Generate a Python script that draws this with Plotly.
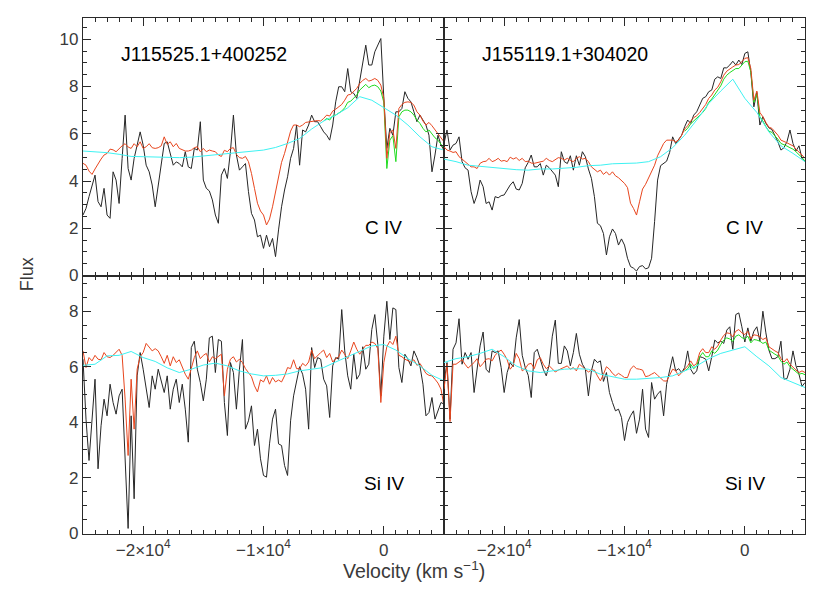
import numpy as np
import plotly.graph_objects as go
from plotly.subplots import make_subplots

# velocity sampling (km/s)
vel = np.arange(-25000, 5001, 250)
vel_cont = np.arange(-25000, 5001, 1000)
vel_green = np.arange(-5000, 5001, 250)

# ---- J115525.1+400252, C IV ----
tl_black = [2.56, 2.84, 3.34, 3.76, 4.25, 3.13, 2.91, 3.69, 2.56, 2.42,
            4.39, 4.04, 3.05, 4.95, 6.79, 4.53, 4.04, 4.96, 5.59, 6.08,
            5.52, 4.67, 4.39, 3.83, 2.91, 3.83, 4.53, 5.59, 5.66, 5.10,
            4.67, 4.81, 4.74, 4.60, 5.24, 4.60, 4.53, 5.38, 5.31, 6.51,
            4.04, 3.69, 3.58, 3.20, 2.56, 2.21, 4.25, 4.53, 4.11, 5.24,
            6.79, 5.10, 4.46, 4.60, 4.74, 3.55, 2.63, 2.35, 1.64, 1.71,
            1.15,
            1.71, 1.22, 1.57, 0.80, 1.93, 2.91, 3.62, 4.18, 4.96, 5.38,
            6.37, 4.67, 6.16, 6.08, 6.37, 6.79, 6.51, 6.51, 6.30, 6.08,
            5.94, 5.73, 6.37, 7.35, 7.99, 7.99, 7.78, 8.76, 7.78, 7.71,
            7.50, 8.20, 9.05, 9.75, 8.91, 8.91, 9.47, 9.75, 10.03, 7.50,
            5.38, 6.23, 5.94, 6.93, 6.93, 7.07, 7.78, 7.50, 7.35, 6.93,
            6.51, 6.79, 6.58, 6.37, 5.94, 4.39, 5.10, 5.94, 5.52, 5.31]
tl_red = [4.75, 4.67, 4.42, 4.28, 4.51, 4.75, 4.93, 5.10, 5.17, 5.35,
          5.32, 5.24, 5.38, 5.49, 5.58, 5.44, 5.38, 5.58, 5.45, 5.66,
          5.38, 5.45, 5.58, 5.41, 5.38, 5.41, 5.49, 5.87, 5.55, 5.66,
          5.45, 5.59, 5.38, 5.32, 5.27, 5.27, 5.31, 5.41, 5.45, 5.24,
          5.38, 5.24, 5.31, 5.27, 5.24, 5.10, 5.04, 5.30, 5.24, 5.38,
          5.41, 5.13, 4.99, 4.96, 5.04, 4.82, 4.32, 3.69, 3.06, 2.73,
          2.56,
          2.14, 2.39, 2.91, 3.51, 4.25, 4.79, 5.17, 5.66, 6.11, 6.37,
          6.37, 6.30, 6.37, 6.48, 6.51, 6.51, 6.54, 6.56, 6.54, 6.65,
          6.79, 6.75, 6.96, 7.04, 7.13, 7.24, 7.42, 7.64, 7.67, 7.78,
          7.92, 8.13, 8.26, 8.34, 8.23, 8.27, 8.34, 8.26, 8.06, 7.50,
          4.96, 6.05, 6.16, 5.38, 7.07, 7.24, 7.33, 7.35, 7.33, 7.21,
          6.93, 6.79, 6.54, 6.37, 6.48, 6.34, 6.16, 6.01, 5.83, 5.66]
tl_green = [6.54, 6.65, 6.58, 6.76, 6.79, 6.86, 6.96, 7.10, 7.33, 7.38,
            7.50, 7.64, 7.85, 7.99, 8.09, 7.95, 8.03, 8.06, 7.99, 7.81,
            7.33, 4.53, 5.73, 5.92, 4.82, 6.72, 6.93, 7.00, 7.00, 6.93,
            6.79, 6.58, 6.44, 6.23, 6.08, 6.16, 6.01, 5.83, 5.73, 5.55,
            5.38]
tl_cyan = [5.27, 5.24, 5.20, 5.13, 5.04, 5.03, 5.01, 4.99, 4.99, 5.01,
           5.06, 5.10, 5.15, 5.21, 5.27, 5.31, 5.42, 5.59, 5.80, 6.20,
           6.54, 6.79, 7.10, 7.57, 7.42, 7.10, 6.79, 6.37, 5.87, 5.45,
           5.31]

# ---- J155119.1+304020, C IV ----
tr_black = [5.59, 6.16, 5.31, 5.52, 5.59, 5.87, 4.82, 4.56, 4.46, 3.55,
            3.05, 3.41, 4.04, 3.76, 3.05, 3.12, 2.77, 3.34, 3.29, 3.38,
            3.41, 3.62, 3.83, 3.97, 3.66, 3.62, 3.90, 4.56, 4.79, 5.10,
            4.60, 4.60, 4.74, 4.25, 4.67, 4.56, 4.42, 4.25, 3.76, 5.24,
            4.82, 4.74, 5.07, 4.46, 5.07, 4.67, 5.24, 5.03, 4.51, 4.11,
            3.34, 2.21, 2.11, 1.78, 0.87, 1.64, 1.97, 1.78, 1.29, 1.55,
            1.29,
            0.73, 0.38, 0.31, 0.19, 0.38, 0.42, 0.28, 0.33, 0.73, 2.28,
            4.04, 4.65, 4.75, 4.84, 5.21, 5.87, 5.59, 5.77, 5.94, 6.30,
            6.58, 6.44, 6.79, 6.93, 7.24, 7.50, 7.57, 7.78, 7.85, 8.31,
            8.41, 8.34, 8.79, 8.79, 8.91, 9.07, 8.91, 9.12, 8.93, 9.40,
            9.47, 8.59, 7.14, 7.75, 6.37, 6.72, 6.44, 6.25, 6.18, 5.94,
            5.66, 5.31, 5.41, 5.66, 6.16, 5.59, 5.27, 5.49, 4.96, 4.82]
tr_red = [5.45, 5.31, 5.27, 5.21, 5.24, 5.03, 4.93, 4.82, 4.75, 4.60,
          4.60, 4.53, 4.75, 4.82, 4.84, 4.96, 4.82, 4.87, 4.96, 4.84,
          4.87, 4.82, 5.01, 4.93, 4.99, 4.87, 4.96, 4.82, 4.84, 4.76,
          4.75, 4.79, 4.82, 4.84, 4.96, 4.87, 4.82, 4.90, 4.99, 4.96,
          4.89, 4.96, 4.87, 4.82, 4.96, 5.03, 4.93, 4.96, 4.82, 4.60,
          4.51, 4.39, 4.46, 4.28, 4.39, 4.25, 4.39, 4.22, 4.14, 4.04,
          3.90,
          3.72, 3.06, 2.84, 2.56, 3.12, 3.66, 3.86, 4.11, 4.39, 4.67,
          5.07, 5.35, 5.59, 5.73, 5.72, 5.73, 5.66, 5.73, 5.94, 6.20,
          6.34, 6.54, 6.68, 6.76, 6.90, 7.07, 7.24, 7.50, 7.64, 7.85,
          7.97, 8.20, 8.48, 8.65, 8.76, 8.83, 8.91, 8.93, 9.05, 9.19,
          9.22, 8.76, 7.42, 7.81, 6.90, 6.72, 6.48, 6.28, 6.23, 6.08,
          5.94, 5.73, 5.69, 5.62, 5.55, 5.49, 5.35, 5.24, 5.10, 4.96]
tr_green = [6.11, 6.23, 6.42, 6.54, 6.62, 6.76, 6.90, 7.07, 7.33, 7.47,
            7.66, 7.81, 8.03, 8.31, 8.48, 8.59, 8.68, 8.76, 8.76, 8.91,
            9.05, 9.07, 8.62, 7.33, 7.67, 6.72, 6.54, 6.30, 6.11, 6.06,
            5.92, 5.77, 5.59, 5.55, 5.48, 5.41, 5.35, 5.24, 5.13, 4.99,
            4.85]
tr_cyan = [4.93, 4.82, 4.67, 4.62, 4.56, 4.51, 4.48, 4.46, 4.51, 4.51,
           4.53, 4.58, 4.65, 4.67, 4.73, 4.75, 4.76, 4.82, 5.03, 5.41,
           5.94, 6.58, 7.28, 7.81, 8.31, 7.50, 6.90, 6.08, 5.49, 5.17,
           4.82]

# ---- J115525.1+400252, Si IV ----
bl_black = [6.27, 4.11, 2.62, 4.23, 5.55, 2.32, 3.87, 4.83, 4.23, 5.37,
            4.71, 4.29, 4.95, 5.19, 2.80, 0.17, 4.23, 1.24, 5.67, 6.51,
            5.91, 5.19, 4.53, 5.67, 5.19, 5.91, 5.43, 5.07, 5.67, 4.47,
            5.19, 5.55, 4.71, 5.37, 4.47, 3.28, 6.69, 6.92, 5.91, 5.43,
            4.77, 5.55, 7.04, 7.10, 5.79, 6.98, 6.92, 4.71, 3.52, 6.15,
            5.79, 4.47, 5.91, 6.98, 3.75, 4.05, 4.59, 3.16, 3.75, 2.68,
            2.08,
            2.02, 3.22, 4.11, 4.47, 3.22, 3.16, 2.44, 2.08, 4.05, 4.95,
            5.43, 6.00, 5.73, 5.19, 3.75, 6.69, 5.97, 6.33, 6.27, 5.55,
            5.31, 4.17, 6.03, 6.33, 6.27, 8.06, 6.57, 5.67, 5.19, 6.45,
            5.55, 5.73, 6.72, 5.91, 6.09, 7.34, 7.88, 6.80, 4.95, 7.10,
            8.36, 6.98, 8.12, 8.06, 5.97, 5.43, 6.45, 6.27, 6.03, 6.57,
            6.33, 6.03, 5.37, 4.23, 4.35, 4.89, 4.11, 4.41, 4.71, 4.65]
bl_red = [6.57, 5.97, 6.33, 6.21, 6.41, 6.27, 6.25, 6.51, 6.36, 6.33,
          6.41, 6.51, 6.63, 6.41, 4.83, 2.80, 5.55, 3.75, 5.91, 6.36,
          6.51, 6.84, 6.72, 6.57, 6.65, 6.57, 6.36, 6.12, 6.41, 6.03,
          6.36, 6.15, 6.25, 5.97, 5.73, 5.55, 5.91, 6.33, 6.57, 6.29,
          6.41, 6.48, 6.17, 6.36, 6.29, 6.36, 6.45, 4.95, 5.91, 6.27,
          6.36, 6.17, 6.27, 6.15, 5.93, 5.79, 5.64, 5.31, 5.09, 5.53,
          5.45,
          5.67, 5.37, 5.61, 5.45, 5.52, 5.45, 5.67, 5.97, 5.93, 6.25,
          5.93, 5.93, 6.12, 6.03, 6.17, 6.60, 6.29, 6.41, 6.51, 6.60,
          6.33, 6.48, 6.17, 6.29, 6.36, 6.60, 6.45, 6.29, 6.57, 6.89,
          6.63, 6.45, 6.63, 6.77, 6.77, 6.89, 6.84, 6.65, 4.71, 6.15,
          6.72, 6.92, 6.80, 7.10, 6.41, 6.36, 6.27, 6.21, 6.17, 6.25,
          6.05, 6.12, 5.93, 5.76, 5.69, 5.67, 5.55, 5.41, 5.19, 4.59]
bl_cyan = [6.05, 6.09, 6.39, 6.41, 6.55, 6.33, 6.19, 5.96, 5.79, 5.91,
           6.06, 6.13, 6.03, 5.85, 5.74, 5.67, 5.69, 5.74, 5.85, 5.91,
           5.97, 6.17, 6.36, 6.57, 6.75, 6.80, 6.60, 6.29, 6.03, 5.69,
           5.49]

# ---- J155119.1+304020, Si IV ----
br_black = [5.43, 6.15, 4.11, 6.63, 6.86, 7.73, 6.09, 6.51, 6.27, 6.51,
            5.07, 6.03, 6.75, 7.25, 5.91, 5.79, 6.57, 6.51, 6.57, 5.97,
            5.07, 5.79, 6.15, 6.00, 7.04, 7.70, 6.41, 5.97, 5.69, 4.89,
            6.51, 6.63, 6.25, 5.91, 5.67, 6.09, 7.10, 7.68, 6.12, 6.12,
            6.75, 6.57, 6.03, 6.51, 7.20, 6.45, 6.09, 5.91, 4.95, 5.85,
            6.27, 6.15, 6.21, 5.47, 5.79, 5.07, 4.71, 4.41, 4.47, 4.17,
            3.34,
            3.99, 4.23, 4.41, 3.60, 4.11, 5.19, 3.75, 3.45, 5.43, 4.83,
            5.01, 5.13, 4.23, 5.37, 5.88, 6.36, 5.85, 5.93, 5.79, 5.97,
            6.57, 5.91, 5.73, 5.85, 6.36, 6.33, 6.27, 5.85, 6.36, 6.96,
            6.86, 6.92, 6.84, 7.32, 7.44, 6.63, 7.88, 7.94, 7.44, 6.89,
            7.40, 6.92, 7.28, 7.44, 6.92, 8.00, 7.22, 6.60, 6.29, 6.29,
            6.36, 6.92, 5.55, 5.57, 5.91, 6.57, 6.03, 5.73, 5.29, 5.43]
br_red = [5.19, 6.09, 4.02, 6.09, 6.09, 6.17, 6.25, 6.09, 5.95, 6.05,
          6.15, 6.29, 6.00, 6.12, 6.27, 6.29, 6.21, 6.41, 6.53, 6.60,
          6.45, 6.25, 5.91, 6.05, 6.48, 6.29, 5.85, 5.93, 6.09, 6.12,
          5.93, 6.25, 6.33, 6.09, 5.93, 6.03, 5.93, 5.81, 5.88, 5.93,
          6.00, 6.03, 5.91, 5.97, 5.85, 6.09, 6.00, 5.91, 5.81, 5.88,
          5.88, 5.67, 5.49, 5.73, 6.00, 5.91, 5.76, 5.67, 5.76, 5.69,
          5.61,
          5.61, 5.91, 6.03, 5.93, 5.91, 5.88, 5.64, 5.67, 5.73, 5.79,
          5.69, 5.60, 5.49, 5.48, 5.69, 5.91, 5.86, 5.67, 5.79, 5.91,
          6.03, 6.21, 6.03, 6.12, 6.51, 6.65, 6.51, 6.51, 6.72, 6.63,
          6.75, 6.96, 7.13, 7.22, 7.20, 7.08, 7.28, 7.34, 7.22, 7.16,
          7.28, 7.00, 7.15, 7.13, 7.08, 6.98, 7.04, 6.72, 6.63, 6.57,
          6.51, 6.29, 6.17, 6.29, 6.09, 5.97, 5.88, 5.79, 5.85, 5.79]
br_green = [5.85, 5.93, 6.09, 5.93, 6.03, 6.36, 6.51, 6.36, 6.36, 6.57,
            6.48, 6.60, 6.80, 6.96, 7.04, 7.00, 6.91, 7.10, 7.15, 7.05,
            7.00, 7.10, 6.86, 6.98, 6.96, 6.92, 6.84, 6.89, 6.60, 6.51,
            6.45, 6.39, 6.20, 6.09, 6.17, 6.00, 5.91, 5.81, 5.73, 5.76,
            5.71]
br_cyan = [6.15, 6.29, 6.36, 6.48, 6.63, 6.36, 6.03, 5.85, 5.79, 5.85,
           5.91, 5.93, 5.91, 5.73, 5.64, 5.55, 5.55, 5.57, 5.61, 5.67,
           5.85, 6.03, 6.29, 6.48, 6.60, 6.72, 6.36, 6.03, 5.61, 5.43,
           5.25]

objects = ["J115525.1+400252", "J155119.1+304020"]
lines = ["C IV", "Si IV"]
x_tickvals = [-20000, -10000, 0]
x_ticktext = ["\u22122\u00d710<sup>4</sup>", "\u22121\u00d710<sup>4</sup>", "0"]

BLACK = "#262626"
RED = "#e8461e"
GREEN = "#1fdc1f"
CYAN = "#3ef2f2"
AXC = "#2a2a2a"
TXT = "#3a3a3a"
FONT = "Liberation Sans"

fig = make_subplots(rows=2, cols=2, horizontal_spacing=0, vertical_spacing=0)

panels = [
    (1, 1, tl_black, tl_red, tl_green, tl_cyan),
    (1, 2, tr_black, tr_red, tr_green, tr_cyan),
    (2, 1, bl_black, bl_red, None, bl_cyan),
    (2, 2, br_black, br_red, br_green, br_cyan),
]

for r, c, blk, red, grn, cyn in panels:
    fig.add_trace(go.Scatter(x=vel, y=blk, mode="lines", line=dict(color=BLACK, width=1)), row=r, col=c)
    if grn is not None:
        fig.add_trace(go.Scatter(x=vel_green, y=grn, mode="lines", line=dict(color=GREEN, width=1)), row=r, col=c)
    fig.add_trace(go.Scatter(x=vel, y=red, mode="lines", line=dict(color=RED, width=1)), row=r, col=c)
    fig.add_trace(go.Scatter(x=vel_cont, y=cyn, mode="lines", line=dict(color=CYAN, width=1)), row=r, col=c)

axis_common = dict(
    showgrid=False, zeroline=False, showline=True, linecolor=AXC, linewidth=1.2,
    mirror="ticks", ticks="inside", ticklen=8, tickwidth=1, tickcolor=AXC,
    tickfont=dict(family=FONT, size=17, color=TXT),
)

for r in (1, 2):
    for c in (1, 2):
        fig.update_xaxes(
            range=[-25000, 5000], tickmode="array", tickvals=x_tickvals, ticktext=x_ticktext,
            showticklabels=(r == 2),
            minor=dict(ticks="inside", ticklen=4, tickwidth=1, tickcolor=AXC, tick0=0, dtick=1000),
            row=r, col=c, **axis_common)
        if r == 1:
            yr, yt = [-0.02, 10.9], [0, 2, 4, 6, 8, 10]
        else:
            yr, yt = [-0.03, 9.27], [0, 2, 4, 6, 8]
        fig.update_yaxes(
            range=yr, tickmode="array", tickvals=yt, showticklabels=(c == 1),
            minor=dict(ticks="inside", ticklen=4, tickwidth=1, tickcolor=AXC, tick0=0, dtick=0.5),
            row=r, col=c, **axis_common)

# object names and line labels
for c, name in zip((1, 2), objects):
    fig.add_annotation(text=name, x=-22050, y=9.37, xanchor="left", yanchor="middle", showarrow=False,
                       font=dict(family=FONT, size=19.5, color="black"), row=1, col=c)
    fig.add_annotation(text=lines[0], x=0, y=2.05, xanchor="center", yanchor="middle", showarrow=False,
                       font=dict(family=FONT, size=19, color="black"), row=1, col=c)
    fig.add_annotation(text=lines[1], x=0, y=1.78, xanchor="center", yanchor="middle", showarrow=False,
                       font=dict(family=FONT, size=19, color="black"), row=2, col=c)

fig.add_annotation(text="Velocity (km s<sup>\u22121</sup>)", xref="paper", yref="paper", x=0.4584, y=-0.07,
                   xanchor="center", yanchor="middle", showarrow=False,
                   font=dict(family=FONT, size=19.5, color=TXT))
fig.add_annotation(text="Flux", xref="paper", yref="paper", x=-0.077, y=0.504, textangle=-90,
                   xanchor="center", yanchor="middle", showarrow=False,
                   font=dict(family=FONT, size=18, color=TXT))

# the page body adds an 8 px offset, so the margins are trimmed by that amount
fig.update_layout(
    width=830, height=593,
    margin=dict(l=75, r=33, t=10, b=67),
    showlegend=False,
    paper_bgcolor="white", plot_bgcolor="white",
)

fig.write_html("out.html")
